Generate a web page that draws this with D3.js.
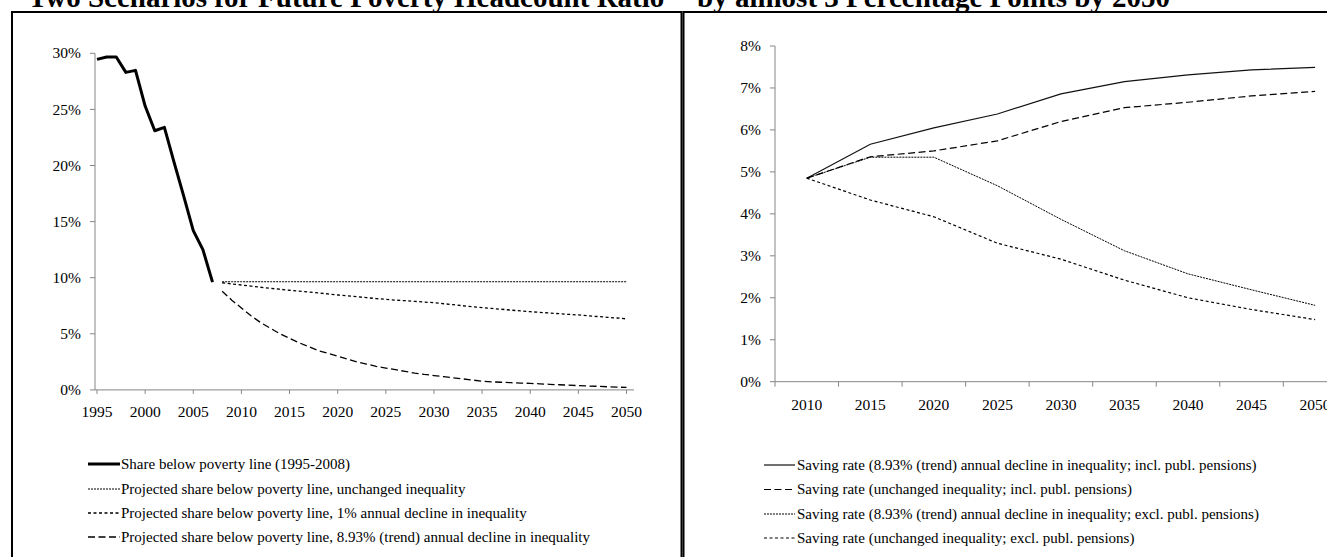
<!DOCTYPE html>
<html><head><meta charset="utf-8">
<script src="https://cdn.jsdelivr.net/npm/d3@7"></script>
<style>
body{margin:0;background:#fff;}
svg{display:block;}
text{font-family:"Liberation Serif","Times New Roman",serif;fill:#000;}
</style>
</head><body>
<svg id="c" width="1327" height="557"></svg>
<script>
// ---------- data: left panel (poverty headcount ratio, %) ----------
const histYears = [1995,1996,1997,1998,1999,2000,2001,2002,2003,2004,2005,2006,2007];
const histShare = [29.46,29.67,29.67,28.3,28.48,25.3,23.1,23.4,20.3,17.3,14.2,12.5,9.6];
const projYears = [2008,2009,2010,2011,2012,2013,2014,2015,2016,2017,2018,2019,2020,2021,2022,2023,2024,2025,2026,2027,2028,2029,2030,2031,2032,2033,2034,2035,2036,2037,2038,2039,2040,2041,2042,2043,2044,2045,2046,2047,2048,2049,2050];
const projUnchanged = [9.64,9.64,9.64,9.64,9.64,9.64,9.64,9.64,9.64,9.64,9.64,9.64,9.64,9.64,9.64,9.64,9.64,9.64,9.64,9.64,9.64,9.64,9.64,9.64,9.64,9.64,9.64,9.64,9.64,9.64,9.64,9.64,9.64,9.64,9.64,9.64,9.64,9.64,9.64,9.64,9.64,9.64,9.64];
const projDecline1 = [9.55,9.45,9.35,9.25,9.15,9.05,8.97,8.88,8.8,8.72,8.64,8.55,8.46,8.38,8.3,8.22,8.14,8.07,8.0,7.95,7.89,7.83,7.77,7.68,7.6,7.5,7.42,7.33,7.26,7.19,7.11,7.04,6.97,6.91,6.85,6.79,6.73,6.68,6.61,6.54,6.47,6.41,6.33];
const projTrend = [8.8,8.0,7.3,6.6,6.0,5.5,5.0,4.6,4.2,3.85,3.5,3.25,3.0,2.75,2.5,2.3,2.1,1.95,1.8,1.65,1.5,1.38,1.28,1.18,1.08,0.98,0.88,0.78,0.72,0.68,0.64,0.61,0.58,0.54,0.5,0.46,0.42,0.38,0.35,0.32,0.28,0.25,0.22];
const leftXTicks = [1995,2000,2005,2010,2015,2020,2025,2030,2035,2040,2045,2050];
const leftYTicks = [0,5,10,15,20,25,30];
const leftLegend = [
  "Share below poverty line (1995-2008)",
  "Projected share below poverty line, unchanged inequality",
  "Projected share below poverty line, 1% annual decline in inequality",
  "Projected share below poverty line, 8.93% (trend) annual decline in inequality"
];

// ---------- data: right panel (saving rate, %) ----------
const savYears = [2010,2015,2020,2025,2030,2035,2040,2045,2050];
const savInclTrend = [4.85,5.66,6.05,6.38,6.86,7.15,7.31,7.43,7.49];
const savInclUnch  = [4.85,5.36,5.50,5.74,6.20,6.53,6.66,6.81,6.92];
const savExclTrend = [4.85,5.35,5.35,4.67,3.87,3.12,2.57,2.19,1.82];
const savExclUnch  = [4.85,4.33,3.93,3.30,2.92,2.42,2.00,1.72,1.48];
const rightYTicks = [0,1,2,3,4,5,6,7,8];
const rightLegend = [
  "Saving rate (8.93% (trend) annual decline in inequality; incl. publ. pensions)",
  "Saving rate (unchanged inequality; incl. publ. pensions)",
  "Saving rate (8.93% (trend) annual decline in inequality; excl. publ. pensions)",
  "Saving rate (unchanged inequality; excl. publ. pensions)"
];
const titleLeft = "Two Scenarios for Future Poverty Headcount Ratio";
const titleRight = "by almost 3 Percentage Points by 2050";

// ---------- drawing ----------
const svg = d3.select("#c");
const AX = "#868686";

// title (top cut off by the page edge)
svg.append("text").attr("x",28).attr("y",6.5).attr("font-size",29).attr("font-weight","bold").text(titleLeft);
svg.append("text").attr("x",697).attr("y",6.5).attr("font-size",29).attr("font-weight","bold").text(titleRight);

// panels
svg.append("rect").attr("x",12).attr("y",12).attr("width",669.5).attr("height",600)
  .attr("fill","#fff").attr("stroke","#000").attr("stroke-width",2);
svg.append("rect").attr("x",683.5).attr("y",12).attr("width",700).attr("height",600)
  .attr("fill","#fff").attr("stroke","#000").attr("stroke-width",2);

// ---- left chart ----
const xL = d3.scaleLinear().domain([1995,2050]).range([97,626.5]);
const yL = d3.scaleLinear().domain([0,30]).range([389.9,53.3]);
const gL = svg.append("g");
const axL = 95;
gL.append("line").attr("x1",axL).attr("x2",axL).attr("y1",yL(30)).attr("y2",yL(0)).attr("stroke",AX);
gL.append("line").attr("x1",axL).attr("x2",634).attr("y1",yL(0)).attr("y2",yL(0)).attr("stroke",AX);
leftYTicks.forEach(t=>{
  gL.append("line").attr("x1",axL-5).attr("x2",axL).attr("y1",yL(t)).attr("y2",yL(t)).attr("stroke",AX);
  gL.append("text").attr("x",axL-14).attr("y",yL(t)).attr("dy","0.33em").attr("text-anchor","end")
    .attr("font-size",15.5).text(t+"%");
});
leftXTicks.forEach(t=>{
  gL.append("line").attr("x1",xL(t)).attr("x2",xL(t)).attr("y1",yL(0)).attr("y2",yL(0)+4).attr("stroke",AX);
  gL.append("text").attr("x",xL(t)).attr("y",417).attr("text-anchor","middle").attr("font-size",15.5).text(t);
});
const lineL = (ys, yrs) => d3.line().x((d,i)=>xL(yrs[i])).y(d=>yL(d))(ys);
const leftStyles = [
  {w:3, dash:null},
  {w:1, dash:"2,1"},
  {w:1.3, dash:"3,2.5"},
  {w:1.3, dash:"7,3.5"}
];
gL.append("path").attr("d",lineL(histShare,histYears)).attr("fill","none").attr("stroke","#000")
  .attr("stroke-width",leftStyles[0].w).attr("stroke-linejoin","round");
[projUnchanged,projDecline1,projTrend].forEach((s,i)=>{
  gL.append("path").attr("d",lineL(s,projYears)).attr("fill","none").attr("stroke","#000")
    .attr("stroke-width",leftStyles[i+1].w).attr("stroke-dasharray",leftStyles[i+1].dash);
});
// legend left
const legRowsL = [464,489,513,537];
leftLegend.forEach((t,i)=>{
  const st = leftStyles[i];
  gL.append("line").attr("x1",88).attr("x2",120).attr("y1",legRowsL[i]).attr("y2",legRowsL[i])
    .attr("stroke","#000").attr("stroke-width",st.w).attr("stroke-dasharray",st.dash);
  gL.append("text").attr("x",121).attr("y",legRowsL[i]).attr("dy","0.33em").attr("font-size",15).text(t);
});

// ---- right chart ----
const xR = d3.scaleBand().domain(savYears).range([775,775+9*63.54]).padding(0);
const yR = d3.scaleLinear().domain([0,8]).range([381.7,46]);
const gR = svg.append("g");
const axR = 775;
gR.append("line").attr("x1",axR).attr("x2",axR).attr("y1",yR(8)).attr("y2",yR(0)).attr("stroke",AX);
gR.append("line").attr("x1",axR).attr("x2",xR.range()[1]).attr("y1",yR(0)).attr("y2",yR(0)).attr("stroke",AX);
rightYTicks.forEach(t=>{
  gR.append("line").attr("x1",axR-5).attr("x2",axR).attr("y1",yR(t)).attr("y2",yR(t)).attr("stroke",AX);
  gR.append("text").attr("x",axR-14).attr("y",yR(t)).attr("dy","0.33em").attr("text-anchor","end")
    .attr("font-size",15.5).text(t+"%");
});
savYears.forEach(c=>{
  gR.append("line").attr("x1",xR(c)).attr("x2",xR(c)).attr("y1",yR(0)).attr("y2",yR(0)+5).attr("stroke",AX);
  gR.append("text").attr("x",xR(c)+xR.bandwidth()/2).attr("y",410).attr("text-anchor","middle").attr("font-size",15.5).text(c);
});
gR.append("line").attr("x1",xR.range()[1]).attr("x2",xR.range()[1]).attr("y1",yR(0)).attr("y2",yR(0)+5).attr("stroke",AX);
const rightStyles = [
  {w:1.2, dash:null, c:"#111"},
  {w:1.2, dash:"7,3.5", c:"#000"},
  {w:1, dash:"2,1", c:"#000"},
  {w:1.2, dash:"3,2.5", c:"#000"}
];
const lineR = d3.line().x((d,i)=>xR(savYears[i])+xR.bandwidth()/2).y(d=>yR(d));
[savInclTrend,savInclUnch,savExclTrend,savExclUnch].forEach((s,i)=>{
  gR.append("path").attr("d",lineR(s)).attr("fill","none").attr("stroke",rightStyles[i].c)
    .attr("stroke-width",rightStyles[i].w).attr("stroke-dasharray",rightStyles[i].dash);
});
const legRowsR = [465,489.5,514,538];
rightLegend.forEach((t,i)=>{
  const st = rightStyles[i];
  gR.append("line").attr("x1",764).attr("x2",795).attr("y1",legRowsR[i]).attr("y2",legRowsR[i])
    .attr("stroke",st.c).attr("stroke-width",st.w).attr("stroke-dasharray",st.dash);
  gR.append("text").attr("x",797).attr("y",legRowsR[i]).attr("dy","0.33em").attr("font-size",15).text(t);
});
</script>
</body></html>
